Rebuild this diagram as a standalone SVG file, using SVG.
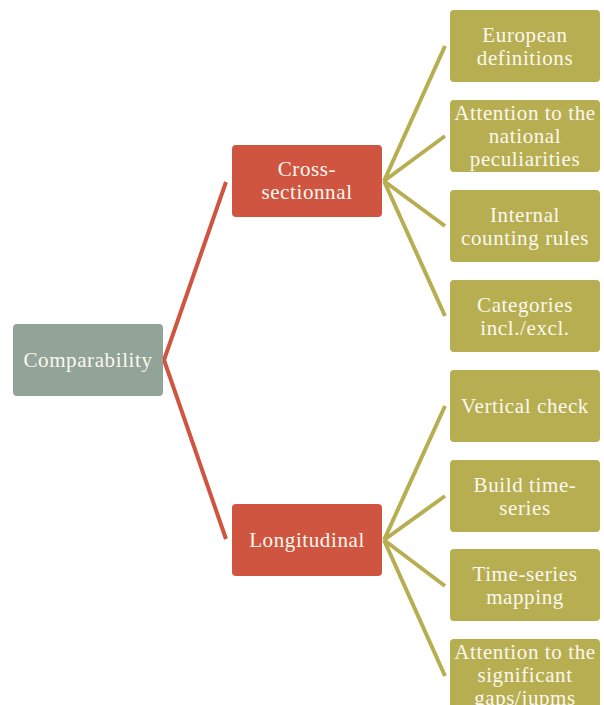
<svg xmlns="http://www.w3.org/2000/svg" width="604" height="705" viewBox="0 0 604 705">
<style>
.t{font-family:"Liberation Serif","DejaVu Serif",serif;font-size:21px;fill:#FBF8EF;text-anchor:middle;letter-spacing:0.6px}
.root{fill:#92A398}
.mid{fill:#CF5540}
.leaf{fill:#B7AE52}
.cr{stroke:#CF5540;stroke-width:4;fill:none;stroke-linejoin:miter}
.co{stroke:#B7AE52;stroke-width:4;fill:none}
</style>
<rect width="604" height="705" fill="#FFFFFF"/>
<g id="connectors">
<polyline class="cr" points="226,182 164,360 226,539"/>
<path class="co" d="M384,181 L445,46 M384,181 L445,136 M384,181 L445,226 M384,181 L445,316"/>
<path class="co" d="M384,540 L445,406 M384,540 L445,496 M384,540 L445,586 M384,540 L445,676"/>
</g>
<g id="comparability"><rect class="root" x="13" y="324" width="150" height="72" rx="4"/><text class="t" x="88" y="367">Comparability</text></g>
<g id="cross"><rect class="mid" x="232" y="145" width="150" height="72" rx="4"/><text class="t" x="307" y="176">Cross-</text><text class="t" x="307" y="199">sectionnal</text></g>
<g id="longitudinal"><rect class="mid" x="232" y="504" width="150" height="72" rx="4"/><text class="t" x="307" y="547">Longitudinal</text></g>
<g id="leaf1"><rect class="leaf" x="450" y="10" width="150" height="72" rx="4"/><text class="t" x="525" y="42">European</text><text class="t" x="525" y="65">definitions</text></g>
<g id="leaf2"><rect class="leaf" x="450" y="100" width="150" height="72" rx="4"/><text class="t" x="525" y="120">Attention to the</text><text class="t" x="525" y="143">national</text><text class="t" x="525" y="166">peculiarities</text></g>
<g id="leaf3"><rect class="leaf" x="450" y="190" width="150" height="72" rx="4"/><text class="t" x="525" y="222">Internal</text><text class="t" x="525" y="245">counting rules</text></g>
<g id="leaf4"><rect class="leaf" x="450" y="280" width="150" height="72" rx="4"/><text class="t" x="525" y="312">Categories</text><text class="t" x="525" y="335">incl./excl.</text></g>
<g id="leaf5"><rect class="leaf" x="450" y="370" width="150" height="72" rx="4"/><text class="t" x="525" y="413">Vertical check</text></g>
<g id="leaf6"><rect class="leaf" x="450" y="460" width="150" height="72" rx="4"/><text class="t" x="525" y="492">Build time-</text><text class="t" x="525" y="515">series</text></g>
<g id="leaf7"><rect class="leaf" x="450" y="549" width="150" height="72" rx="4"/><text class="t" x="525" y="581">Time-series</text><text class="t" x="525" y="604">mapping</text></g>
<g id="leaf8"><rect class="leaf" x="450" y="639" width="150" height="72" rx="4"/><text class="t" x="525" y="659">Attention to the</text><text class="t" x="525" y="682">significant</text><text class="t" x="525" y="705">gaps/jupms</text></g>
</svg>
